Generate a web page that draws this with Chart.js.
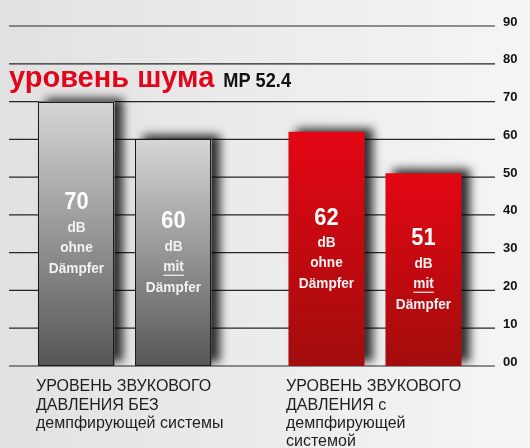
<!DOCTYPE html>
<html lang="ru">
<head>
<meta charset="utf-8">
<title>уровень шума MP 52.4</title>
<script src="https://cdn.jsdelivr.net/npm/chart.js@4.4.1/dist/chart.umd.min.js"></script>
<style>
  html, body { margin: 0; padding: 0; }
  body {
    width: 530px;
    height: 448px;
    overflow: hidden;
    background: linear-gradient(90deg, #e1e1e1 0%, #ebebeb 45%, #f5f5f5 100%);
  }
  .chart-box { position: relative; width: 530px; height: 448px; }
</style>
</head>
<body>
<div class="chart-box"><canvas id="noiseChart"></canvas></div>
<script>
// data
const groupLabels = [
    ['УРОВЕНЬ ЗВУКОВОГО', 'ДАВЛЕНИЯ БЕЗ', 'демпфирующей системы'],
    ['УРОВЕНЬ ЗВУКОВОГО', 'ДАВЛЕНИЯ с', 'демпфирующей', 'системой']
]
const withoutDamper = [70, 62]
const withDamper = [60, 51]
const damperWords = ['ohne', 'mit']
const unitLabel = 'dB'
const damperLabel = 'Dämpfer'
const yTickLabels = ['00', '10', '20', '30', '40', '50', '60', '70', '80', '90']
const titleRed = 'уровень шума'
const titleModel = 'MP 52.4'

const SANS = "'Liberation Sans', Arial, sans-serif"
const SQUEEZE = 0.91 // condensed look for the bar texts

// gray for the first group, red for the second
const groupColors = [
    { top: '#d6d6d6', bottom: '#565656', outline: '#1a1a1a' },
    { top: '#e30613', bottom: '#a20d0d', outline: null }
]

function barGradient(ctx) {
    const colors = groupColors[ctx.dataIndex]
    const chart = ctx.chart
    const area = chart.chartArea
    if (!area || !chart.scales.y) return colors.bottom
    const top = chart.scales.y.getPixelForValue(ctx.raw)
    const g = chart.ctx.createLinearGradient(0, top, 0, area.bottom)
    g.addColorStop(0, colors.top)
    g.addColorStop(1, colors.bottom)
    return g
}

function squeezedText(ctx, text, x, y) {
    ctx.save()
    ctx.translate(x, y)
    ctx.scale(SQUEEZE, 1)
    ctx.fillText(text, 0, 0)
    ctx.restore()
}

const gridPlugin = {
    id: 'gridLines',
    beforeDatasetsDraw(chart) {
        const { ctx, chartArea, scales } = chart
        ctx.save()
        ctx.strokeStyle = '#262626'
        ctx.lineWidth = 1.2
        scales.y.ticks.forEach(t => {
            const y = scales.y.getPixelForValue(t.value)
            ctx.beginPath()
            ctx.moveTo(chartArea.left + 9, y)
            ctx.lineTo(chartArea.right - 5, y)
            ctx.stroke()
        })
        ctx.restore()
    }
}

const shadowPlugin = {
    id: 'barShadow',
    beforeDatasetDraw(chart) {
        const c = chart.ctx
        c.save()
        c.shadowColor = 'rgba(0,0,0,0.8)'
        c.shadowBlur = 9
        c.shadowOffsetX = 8
        c.shadowOffsetY = -4
    },
    afterDatasetDraw(chart) {
        chart.ctx.restore()
    }
}

const barTextPlugin = {
    id: 'barText',
    afterDatasetsDraw(chart) {
        const ctx = chart.ctx
        ctx.save()
        ctx.textAlign = 'center'
        ctx.textBaseline = 'middle'
        chart.data.datasets.forEach((ds, di) => {
            chart.getDatasetMeta(di).data.forEach((bar, i) => {
                const outline = groupColors[i].outline
                if (outline) {
                    ctx.strokeStyle = outline
                    ctx.lineWidth = 1
                    const l = Math.round(bar.x - bar.width / 2) + 0.5
                    const t = Math.round(bar.y) + 0.5
                    ctx.strokeRect(l, t, Math.round(bar.width) - 1, Math.round(bar.base - bar.y) - 1)
                }
                const cy = (bar.y + bar.base) / 2
                const word = damperWords[di]
                ctx.fillStyle = '#ffffff'
                ctx.font = `bold 24px ${SANS}`
                squeezedText(ctx, String(ds.data[i]), bar.x, cy - 31)
                ctx.fillStyle = '#f2f2f2'
                ctx.font = `bold 15px ${SANS}`
                squeezedText(ctx, unitLabel, bar.x, cy - 6)
                squeezedText(ctx, word, bar.x, cy + 14)
                squeezedText(ctx, damperLabel, bar.x, cy + 35)
                if (word === 'mit') {
                    const w = ctx.measureText(word).width * SQUEEZE
                    ctx.fillRect(bar.x - w / 2, cy + 22, w, 1.2)
                }
            })
        })
        ctx.restore()
    }
}

const titlePlugin = {
    id: 'titleText',
    afterDraw(chart) {
        const ctx = chart.ctx
        ctx.save()
        ctx.textBaseline = 'alphabetic'
        ctx.textAlign = 'left'
        ctx.fillStyle = '#e2061a'
        ctx.font = `bold 29px ${SANS}`
        ctx.fillText(titleRed, 9, 87)
        const w = ctx.measureText(titleRed).width
        ctx.fillStyle = '#111111'
        ctx.font = `bold 20px ${SANS}`
        squeezedText(ctx, titleModel, 9 + w + 9, 87)
        ctx.restore()
    }
}

new Chart(document.getElementById('noiseChart'), {
    type: 'bar',
    data: {
        labels: groupLabels,
        datasets: [
            {
                label: damperWords[0],
                data: withoutDamper,
                backgroundColor: barGradient,
                borderWidth: 0,
                categoryPercentage: 0.776,
                barPercentage: 0.784
            },
            {
                label: damperWords[1],
                data: withDamper,
                backgroundColor: barGradient,
                borderWidth: 0,
                categoryPercentage: 0.776,
                barPercentage: 0.784
            }
        ]
    },
    options: {
        responsive: true,
        maintainAspectRatio: false,
        animation: false,
        layout: { padding: { top: 26, left: 0, right: 0, bottom: 0 } },
        plugins: {
            legend: { display: false },
            tooltip: { enabled: false }
        },
        scales: {
            x: {
                grid: { display: false, drawTicks: false },
                border: { display: false },
                ticks: {
                    align: 'start',
                    labelOffset: -89,
                    padding: 12,
                    autoSkip: false,
                    maxRotation: 0,
                    color: '#1e1e1e',
                    font: { family: SANS, size: 16, lineHeight: 1.13 }
                },
                afterFit: s => {
                    s.height = 82
                    s.paddingLeft = 0
                    s.paddingRight = 0
                }
            },
            y: {
                position: 'right',
                min: 0,
                max: 90,
                grid: { display: false, drawTicks: false },
                border: { display: false },
                ticks: {
                    stepSize: 10,
                    padding: 3,
                    labelOffset: -4,
                    color: '#111111',
                    font: { family: SANS, size: 13, weight: 'bold' },
                    callback: (v, i) => yTickLabels[i]
                },
                afterFit: s => { s.width = 30 }
            }
        }
    },
    plugins: [gridPlugin, shadowPlugin, barTextPlugin, titlePlugin]
})
</script>
</body>
</html>
